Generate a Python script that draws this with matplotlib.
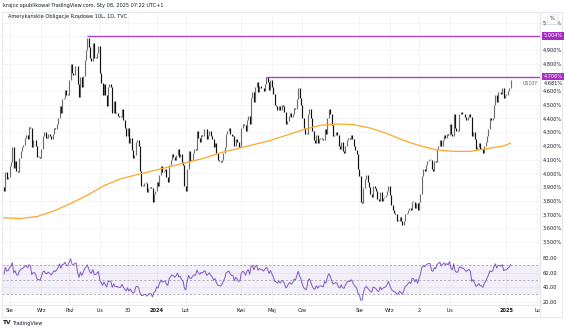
import numpy as np
import pandas as pd
import matplotlib
matplotlib.use("Agg")
import matplotlib.pyplot as plt
from matplotlib.patches import Rectangle

plt.rcParams['font.family'] = ['DejaVu Sans']

# ---------------- data (daily closes, US10Y, %) ----------------
warmup = [3.84, 3.86, 3.94, 4.04, 4.06, 4.01, 3.97, 3.86, 3.76, 3.83, 3.81, 3.79,
          3.75, 3.85, 3.84, 3.87, 3.90]
jul23 = [3.87, 4.01, 3.96, 3.97]
aug23 = [4.05, 4.08, 4.19, 4.04, 4.09, 4.02, 4.01, 4.11, 4.16, 4.19, 4.21, 4.26,
         4.28, 4.25, 4.34, 4.33, 4.19, 4.24, 4.24, 4.20, 4.12, 4.12, 4.11]
sep23 = [4.18, 4.27, 4.30, 4.26, 4.26, 4.29, 4.27, 4.25, 4.29, 4.33, 4.32, 4.36,
         4.40, 4.49, 4.44, 4.54, 4.55, 4.61, 4.57, 4.57]
oct23 = [4.68, 4.80, 4.73, 4.72, 4.78, 4.78, 4.65, 4.56, 4.70, 4.63, 4.71, 4.83,
         4.90, 4.99, 4.92, 4.84, 4.82, 4.95, 4.84, 4.84, 4.88, 4.93]
nov23 = [4.73, 4.66, 4.57, 4.65, 4.57, 4.49, 4.63, 4.65, 4.63, 4.44, 4.53, 4.44,
         4.44, 4.42, 4.41, 4.41, 4.47, 4.39, 4.33, 4.27, 4.33]
dec23 = [4.22, 4.26, 4.17, 4.11, 4.13, 4.23, 4.24, 4.20, 4.02, 3.91, 3.91, 3.93,
         3.93, 3.86, 3.89, 3.90, 3.89, 3.79, 3.85, 3.87]
jan24 = [3.94, 3.91, 3.99, 4.05, 4.01, 4.02, 4.03, 3.97, 3.94, 4.06, 4.10, 4.14,
         4.12, 4.10, 4.13, 4.18, 4.12, 4.14, 4.08, 4.06, 3.91]
feb24 = [3.87, 4.03, 4.16, 4.09, 4.10, 4.15, 4.18, 4.17, 4.31, 4.26, 4.23, 4.28,
         4.27, 4.32, 4.32, 4.25, 4.28, 4.31, 4.27, 4.25]
mar24 = [4.19, 4.22, 4.15, 4.10, 4.09, 4.08, 4.10, 4.15, 4.19, 4.29, 4.31, 4.33,
         4.29, 4.27, 4.27, 4.20, 4.25, 4.23, 4.19, 4.20]
apr24 = [4.33, 4.36, 4.35, 4.31, 4.39, 4.42, 4.36, 4.55, 4.59, 4.52, 4.63, 4.67,
         4.59, 4.64, 4.62, 4.62, 4.60, 4.65, 4.70, 4.67, 4.61, 4.68]
may24 = [4.63, 4.58, 4.50, 4.49, 4.46, 4.49, 4.46, 4.50, 4.49, 4.45, 4.36, 4.38,
         4.42, 4.44, 4.41, 4.43, 4.48, 4.47, 4.54, 4.62, 4.55, 4.50]
jun24 = [4.40, 4.33, 4.29, 4.29, 4.43, 4.47, 4.40, 4.31, 4.24, 4.22, 4.28, 4.22,
         4.25, 4.26, 4.25, 4.24, 4.32, 4.29, 4.40]
jul24 = [4.47, 4.43, 4.35, 4.27, 4.28, 4.30, 4.28, 4.20, 4.18, 4.23, 4.16, 4.15,
         4.20, 4.24, 4.26, 4.25, 4.28, 4.25, 4.20, 4.17, 4.14, 4.03]
aug24 = [3.98, 3.79, 3.78, 3.89, 3.96, 3.99, 3.94, 3.90, 3.85, 3.83, 3.91, 3.89,
         3.87, 3.81, 3.80, 3.86, 3.80, 3.82, 3.83, 3.84, 3.87, 3.91]
sep24 = [3.84, 3.77, 3.73, 3.71, 3.70, 3.65, 3.65, 3.68, 3.65, 3.62, 3.65, 3.70,
         3.71, 3.73, 3.75, 3.73, 3.79, 3.79, 3.75, 3.78]
oct24 = [3.73, 3.79, 3.85, 3.98, 4.03, 4.02, 4.06, 4.09, 4.10, 4.10, 4.03, 4.02,
         4.09, 4.08, 4.18, 4.20, 4.24, 4.20, 4.24, 4.28, 4.26, 4.29, 4.28]
nov24 = [4.36, 4.29, 4.27, 4.43, 4.33, 4.31, 4.31, 4.43, 4.45, 4.43, 4.43, 4.41,
         4.39, 4.41, 4.43, 4.41, 4.27, 4.30, 4.25, 4.18]
dec24 = [4.19, 4.22, 4.18, 4.18, 4.15, 4.20, 4.23, 4.27, 4.32, 4.40, 4.39, 4.40,
         4.50, 4.57, 4.52, 4.59, 4.59, 4.58, 4.62, 4.55, 4.57]
jan25 = [4.57, 4.60, 4.62, 4.68]

months = [jul23, aug23, sep23, oct23, nov23, dec23, jan24, feb24, mar24, apr24,
          may24, jun24, jul24, aug24, sep24, oct24, nov24, dec24, jan25]

# 200-day moving average (bar index, value)
ma_idx = [0, 12, 24, 36, 48, 60, 72, 84, 96, 108, 120, 132, 144, 156, 168, 180,
          192, 204, 216, 228, 240, 252, 264, 276, 288, 300, 312, 324, 336, 348,
          360, 365]
ma_val = [3.675, 3.67, 3.685, 3.725, 3.78, 3.84, 3.91, 3.96, 3.99, 4.02, 4.05,
          4.08, 4.11, 4.15, 4.18, 4.21, 4.24, 4.28, 4.32, 4.35, 4.36, 4.355, 4.33,
          4.29, 4.24, 4.20, 4.17, 4.16, 4.16, 4.18, 4.20, 4.22]

levels = [5.004, 4.706]
level_labels = ["5,004%", "4,706%"]
last_label = "4,681%"

price_ticks = [3.5, 3.6, 3.7, 3.8, 3.9, 4.0, 4.1, 4.2, 4.3, 4.4, 4.5, 4.6, 4.7,
               4.8, 4.9, 5.0, 5.1]
rsi_ticks = [20, 40, 60, 80]

# time labels: (label, month array number, offset in month)
time_labels = ["Sie", "Wrz", "Paź", "Lis", "30", "2024", "Lut", "Kwi", "Maj",
               "Cze", "Sie", "Wrz", "2", "Lis", "2025", "Lu"]
time_month = [1, 2, 3, 4, 4, 6, 7, 9, 10, 11, 13, 14, 15, 16, 18, 19]
time_off = [0, 0, 0, 0, 20, 0, 0, 0, 0, 0, 0, 0, 1, 0, 0, 18]

# ---------------- derived ----------------
closes = np.concatenate([np.array(m, float) for m in months])
opens = np.r_[warmup[-1], closes[:-1]]
n = len(closes)
idx = np.arange(n)
starts = np.r_[0, np.cumsum([len(m) for m in months])]
tick_pos = [starts[m] + o for m, o in zip(time_month, time_off)]

full = pd.Series(np.r_[warmup, closes])
d = full.diff()
up = d.clip(lower=0).ewm(alpha=1/14, adjust=False).mean()
dn = (-d.clip(upper=0)).ewm(alpha=1/14, adjust=False).mean()
rsi = (100 - 100 / (1 + up / dn)).values[len(warmup):]

# ---------------- figure ----------------
W, H = 564, 329
fig = plt.figure(figsize=(W/100, H/100), dpi=100)
fig.patch.set_facecolor('white')

def fx(px): return px / W
def fy(py): return 1 - py / H

L, R = 2, 540
top, mid, bot = 12, 258, 305
ax = fig.add_axes([fx(L), fy(mid), fx(R - L), (mid - top) / H])
ax2 = fig.add_axes([fx(L), fy(bot), fx(R - L), (bot - mid) / H], sharex=ax)

pxd = 1.388
x0 = 4
ax.set_xlim(-(x0 - L) / pxd, (R - x0) / pxd)

def p_at(py): return 5 - (py - 36.3) / 137.0
def py_of(p): return 36.3 + (5 - p) * 137.0
ax.set_ylim(p_at(mid), p_at(top))

grid_c = '#f0f3fa'
for a in (ax, ax2):
    a.set_facecolor('white')
    for s in a.spines.values():
        s.set_color('#e0e3eb')
        s.set_linewidth(0.6)
    a.spines['left'].set_visible(False)
    a.spines['top'].set_visible(False)
    a.tick_params(length=0, labelsize=3.6, colors='#131722', pad=2.2)
    a.yaxis.tick_right()
    a.set_xticks(tick_pos)
    a.grid(True, color=grid_c, lw=0.6)
    a.set_axisbelow(True)

ax.set_yticks(price_ticks)
ax.set_yticklabels([("" if abs(t - 5.0) < 1e-9 or abs(t - 4.7) < 1e-9
                     else f"{t:.3f}%".replace('.', ',')) for t in price_ticks])
ax.tick_params(axis='x', labelbottom=False)

# candles
lo = np.minimum(opens, closes)
hi = np.maximum(opens, closes)
hi = np.where(hi - lo < 0.006, lo + 0.006, hi)
upm = closes >= opens
ax.vlines(idx[upm], lo[upm], hi[upm], color='#6f6f6f', lw=0.85)
ax.vlines(idx[~upm], lo[~upm], hi[~upm], color='#111111', lw=0.85)

# moving average
ax.plot(ma_idx, ma_val, color='#FFA726', lw=0.9, zorder=3)

# horizontal levels
lev_start = [int(np.argmax(closes[:120])), 120 + int(np.argmax(closes[120:260]))]
for lv, st in zip(levels, lev_start):
    ax.plot([st, ax.get_xlim()[1]], [lv, lv], color='#B03FC9', lw=1.0, zorder=4,
            solid_capstyle='butt')

# level labels on price scale
for lv, lab in zip(levels, level_labels):
    fig.text(fx(543.5), fy(py_of(lv)), lab, fontsize=3.6, color='white',
             va='center', ha='left',
             bbox=dict(boxstyle='square,pad=0.25', fc='#A62FC2', ec='none'))
yy = py_of(closes[-1]) + 3.5
fig.text(fx(543.5), fy(yy), last_label, fontsize=3.6, color='#131722',
         va='center', ha='left')
fig.text(fx(538), fy(yy), "US10Y", fontsize=3.4, color='#555b66', va='center',
         ha='right')
fig.text(fx(552), fy(18.5), "%", fontsize=3.6, color='#131722', va='center',
         ha='center',
         bbox=dict(boxstyle='square,pad=0.5', fc='white', ec='#e0e3eb', lw=0.5))

# RSI panel
def r_at(py): return 80 - (py - 257) / 0.742
ax2.set_ylim(r_at(bot), r_at(mid))
ax2.axhspan(30, 70, color='#7E57C2', alpha=0.09, lw=0)
for lv in (70, 50, 30):
    ax2.axhline(lv, color='#9598a1', lw=0.6, ls=(0, (2.5, 2.5)), alpha=0.9)
ax2.plot(idx, rsi, color='#7E57C2', lw=0.7)
ax2.set_yticks(rsi_ticks)
ax2.set_yticklabels([f"{t:.2f}".replace('.', ',') for t in rsi_ticks])
ax2.set_xticklabels(time_labels)
for t, lab in zip(ax2.get_xticklabels(), time_labels):
    if lab in ("2024", "2025"):
        t.set_fontweight('bold')

# frame & texts
fig.patches.append(Rectangle((fx(2), fy(317)), fx(560), (317 - 12) / H,
                             transform=fig.transFigure, fill=False,
                             ec='#e0e3eb', lw=0.6))
fig.add_artist(plt.Line2D([fx(R), fx(R)], [fy(12), fy(317)], color='#e0e3eb',
                          lw=0.6))
fig.text(fx(3), fy(5.5), "krajcz opublikował TradingView.com, Sty 08, 2025 07:22 UTC+1",
         fontsize=3.6, color='#131722', va='center', ha='left')
fig.text(fx(8), fy(16.5), "Amerykańskie Obligacje Rządowe 10L, 1D, TVC",
         fontsize=3.6, color='#131722', va='center', ha='left')
fig.text(fx(3), fy(323), "TV", fontsize=4.2, color='#131722', va='center',
         ha='left', fontweight='bold')
fig.text(fx(12), fy(323), "TradingView", fontsize=3.6, color='#131722',
         va='center', ha='left')

fig.savefig("out.png", dpi=100, facecolor='white')
